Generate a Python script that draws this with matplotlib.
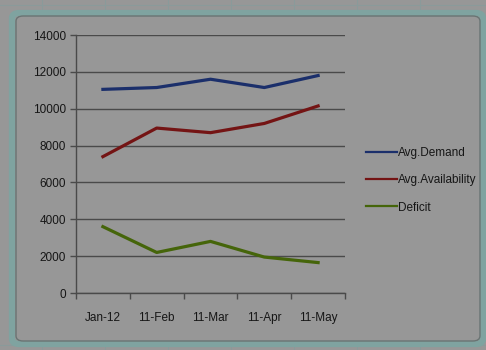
import matplotlib.pyplot as plt
from matplotlib.patches import FancyBboxPatch
from matplotlib.lines import Line2D

plt.rcParams.update({'font.size': 8.5, 'font.family': ['Liberation Sans', 'DejaVu Sans']})

months = ['Jan-12', '11-Feb', '11-Mar', '11-Apr', '11-May']
avg_demand = [11050, 11150, 11600, 11150, 11800]
avg_availability = [7400, 8950, 8700, 9200, 10150]
deficit = [3600, 2200, 2800, 1950, 1650]

bg = '#979797'
text_col = '#161616'

fig = plt.figure(figsize=(4.86, 3.5), dpi=100, facecolor=bg)

# faint sheet grid behind the chart frame
for x in [42, 105, 168, 231, 294, 357, 420]:
    fig.add_artist(Line2D([x / 486, x / 486], [0, 1], color='#8a9a9a', lw=0.8, zorder=-3))
for y in [5, 345]:
    fig.add_artist(Line2D([0, 1], [1 - y / 350, 1 - y / 350], color='#8a9a9a', lw=0.8, zorder=-3))

# chart frame
frame = FancyBboxPatch((12 / 486, 6 / 350), 471 / 486, 331 / 350,
                       boxstyle='round,pad=0,rounding_size=0.015',
                       transform=fig.transFigure, facecolor=bg,
                       edgecolor='#7fa3a0', lw=4.5, zorder=-2)
fig.add_artist(frame)
inner = FancyBboxPatch((16 / 486, 9 / 350), 464 / 486, 325 / 350,
                       boxstyle='round,pad=0,rounding_size=0.015',
                       transform=fig.transFigure, facecolor='none',
                       edgecolor='#6a7473', lw=1, zorder=-1)
fig.add_artist(inner)

ax = fig.add_axes([76 / 486, 1 - 293 / 350, 269 / 486, 258 / 350])
ax.patch.set_alpha(0)

x = list(range(len(months)))
ax.plot(x, avg_demand, color='#1b2f6b', lw=2.3, label='Avg.Demand')
ax.plot(x, avg_availability, color='#741414', lw=2.3, label='Avg.Availability')
ax.plot(x, deficit, color='#45650a', lw=2.3, label='Deficit')

ax.set_xlim(-0.5, len(months) - 0.5)
ax.set_ylim(0, 14000)
ax.set_yticks(range(0, 14001, 2000))
ax.yaxis.grid(True, color='#4a4a4a', lw=1)
ax.set_axisbelow(True)

ax.set_xticks([i - 0.5 for i in range(len(months) + 1)])
ax.set_xticklabels([])
ax.set_xticks(x, minor=True)
ax.set_xticklabels(months, minor=True)
ax.tick_params(axis='x', which='minor', length=0, pad=14, colors=text_col)
ax.tick_params(axis='x', which='major', length=4, width=1, color='#4a4a4a', direction='out')
ax.tick_params(axis='y', length=4, width=1, color='#4a4a4a', labelcolor=text_col, pad=3)

for side in ['top', 'right']:
    ax.spines[side].set_visible(False)
for side in ['left', 'bottom']:
    ax.spines[side].set_color('#4a4a4a')
    ax.spines[side].set_linewidth(1)

leg = ax.legend(loc='center left', bbox_to_anchor=(1.04, 0.437), frameon=False,
                handlelength=2.6, handletextpad=0.1, labelspacing=1.3,
                fontsize=8.5)
for t in leg.get_texts():
    t.set_color(text_col)
for h in leg.get_lines():
    h.set_linewidth(1.6)

fig.savefig('out.png', dpi=100, facecolor=bg)
